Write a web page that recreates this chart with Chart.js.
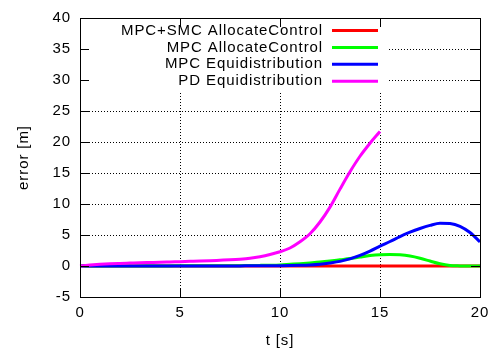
<!DOCTYPE html>
<html lang="en">
<head>
    <meta charset="UTF-8">
    <title>Tracking error</title>
    <script src="https://cdn.jsdelivr.net/npm/chart.js"></script>
    <style>
        html, body {
            margin: 0;
            padding: 0;
            background-color: #fff;
        }
    </style>
</head>
<body>
    <canvas id="errChart" width="500" height="356"></canvas>

    <script>
        // time axis [s]
        const tTime = [0, 0.5, 1, 1.5, 2, 2.5, 3, 3.5, 4, 4.5, 5, 5.5, 6, 6.5, 7, 7.5, 8, 8.5, 9, 9.5,
                       10, 10.5, 11, 11.5, 12, 12.5, 13, 13.5, 14, 14.5, 15, 15.5, 16, 16.5, 17, 17.5, 18, 18.5, 19, 19.5, 20];

        // error [m]
        const smcAllocate = [0, 0, 0, 0, 0, 0, 0, 0, 0, 0, 0, 0, 0, 0, 0, 0, 0, 0, 0, 0,
                             0, 0, 0, 0, 0, 0, 0, 0, 0, 0, 0, 0, 0, 0, 0, 0, 0, 0, 0, 0, 0];
        const mpcAllocate = [0, 0, 0.01, 0.01, 0.01, 0.01, 0.02, 0.02, 0.02, 0.02, 0.03, 0.03, 0.03, 0.04, 0.04, 0.05, 0.06, 0.08, 0.1, 0.13,
                             0.18, 0.28, 0.38, 0.5, 0.63, 0.8, 1.0, 1.2, 1.45, 1.68, 1.82, 1.86, 1.8, 1.6, 1.25, 0.8, 0.35, 0.08, 0.02, 0, 0];
        const mpcEqui = [0, 0, 0, 0.01, 0.01, 0.01, 0.01, 0.01, 0.01, 0.01, 0.01, 0.01, 0.01, 0.02, 0.02, 0.02, 0.02, 0.03, 0.03, 0.04,
                         0.05, 0.07, 0.11, 0.18, 0.3, 0.5, 0.75, 1.15, 1.7, 2.4, 3.2, 3.95, 4.75, 5.45, 6.05, 6.55, 6.9, 6.85, 6.4, 5.4, 3.9];
        const pdEqui = [0, 0.15, 0.27, 0.36, 0.42, 0.47, 0.52, 0.56, 0.6, 0.65, 0.7, 0.75, 0.8, 0.86, 0.93, 1.0, 1.1, 1.25, 1.5, 1.85,
                        2.3, 2.9, 3.9, 5.2, 7.1, 9.5, 12.4, 15.2, 17.7, 19.8, 21.7, null, null, null, null, null, null, null, null, null, null];

        const seriesLabels = ["MPC+SMC AllocateControl", "MPC AllocateControl", "MPC Equidistribution", "PD Equidistribution"];
        const xTicks = [0, 5, 10, 15, 20];
        const yTicks = [-5, 0, 5, 10, 15, 20, 25, 30, 35, 40];

        const fontFamily = '"Liberation Sans", Arial, sans-serif';
        const letterGap = "0.9px";
        Chart.defaults.font.family = fontFamily;
        Chart.defaults.font.size = 15;
        Chart.defaults.color = "#000";

        function toPoints(values) {
            const pts = [];
            values.forEach((v, i) => {
                if (v !== null) pts.push({ x: tTime[i], y: v });
            });
            return pts;
        }

        function makeSet(label, values, color, order) {
            return {
                label: label,
                data: toPoints(values),
                borderColor: color,
                backgroundColor: color,
                borderWidth: 3,
                pointRadius: 0,
                fill: false,
                cubicInterpolationMode: "monotone",
                order: order,
                clip: 3
            };
        }

        const align = (p) => Math.round(p - 0.5) + 0.5;

        // gnuplot-like frame: opaque key box, inward ticks, border, key
        const gnuplotFrame = {
            id: "gnuplotFrame",
            beforeDraw(chart) {
                // gnuplot's text is set a little wider than Arial
                chart.ctx.letterSpacing = letterGap;
            },
            afterDatasetsDraw(chart) {
                const ctx = chart.ctx;
                const a = chart.chartArea;
                const xs = chart.scales.x;
                const ys = chart.scales.y;
                ctx.save();

                ctx.fillStyle = "#fff";
                ctx.fillRect(a.left + 1, a.top + 1, 306, 72);

                ctx.strokeStyle = "#000";
                ctx.lineWidth = 1;
                ctx.beginPath();
                yTicks.forEach(v => {
                    const y = align(ys.getPixelForValue(v));
                    ctx.moveTo(a.left, y);
                    ctx.lineTo(a.left + 9, y);
                    ctx.moveTo(a.right, y);
                    ctx.lineTo(a.right - 9, y);
                });
                xTicks.forEach(v => {
                    const x = align(xs.getPixelForValue(v));
                    ctx.moveTo(x, a.bottom);
                    ctx.lineTo(x, a.bottom - 9);
                    ctx.moveTo(x, a.top);
                    ctx.lineTo(x, a.top + 9);
                });
                ctx.stroke();
                ctx.strokeRect(align(a.left), align(a.top), Math.round(a.right - a.left), Math.round(a.bottom - a.top));

                // key, drawn in dataset order
                ctx.font = "15px " + fontFamily;
                ctx.letterSpacing = letterGap;
                ctx.textAlign = "right";
                ctx.textBaseline = "middle";
                chart.data.datasets.forEach((ds, i) => {
                    const y = a.top + 12.5 + i * 16.9;
                    ctx.fillStyle = "#000";
                    ctx.fillText(ds.label, a.left + 243, y);
                    ctx.strokeStyle = ds.borderColor;
                    ctx.lineWidth = 3;
                    ctx.beginPath();
                    ctx.moveTo(a.left + 252, y);
                    ctx.lineTo(a.left + 298, y);
                    ctx.stroke();
                });
                ctx.restore();
            }
        };

        const gridOpts = {
            color: "#000",
            lineWidth: 1,
            drawTicks: false
        };

        new Chart(document.getElementById("errChart"), {
            type: "line",
            data: {
                datasets: [
                    makeSet(seriesLabels[0], smcAllocate, "#ff0000", 3),
                    makeSet(seriesLabels[1], mpcAllocate, "#00ff00", 2),
                    makeSet(seriesLabels[2], mpcEqui, "#0000ff", 1),
                    makeSet(seriesLabels[3], pdEqui, "#ff00ff", 0)
                ]
            },
            options: {
                responsive: false,
                animation: false,
                layout: { padding: { top: 15, right: 20, left: 0, bottom: 0 } },
                plugins: {
                    legend: { display: false },
                    tooltip: { enabled: false }
                },
                scales: {
                    x: {
                        type: "linear",
                        min: 0,
                        max: 20,
                        afterFit: (scale) => { scale.height = 59; },
                        afterBuildTicks: (scale) => { scale.ticks = xTicks.map(v => ({ value: v })); },
                        grid: gridOpts,
                        border: { display: false, dash: [1, 2] },
                        ticks: { padding: 7, maxRotation: 0 },
                        title: { display: true, text: "t [s]", padding: { top: 0, bottom: 6 } }
                    },
                    y: {
                        min: -5,
                        max: 40,
                        afterFit: (scale) => { scale.width = 80; },
                        afterBuildTicks: (scale) => { scale.ticks = yTicks.map(v => ({ value: v })); },
                        grid: gridOpts,
                        border: { display: false, dash: [1, 2] },
                        ticks: { padding: 9 },
                        title: { display: true, text: "error [m]", padding: { top: 15, bottom: 0 } }
                    }
                }
            },
            plugins: [gnuplotFrame]
        });
    </script>
</body>
</html>
